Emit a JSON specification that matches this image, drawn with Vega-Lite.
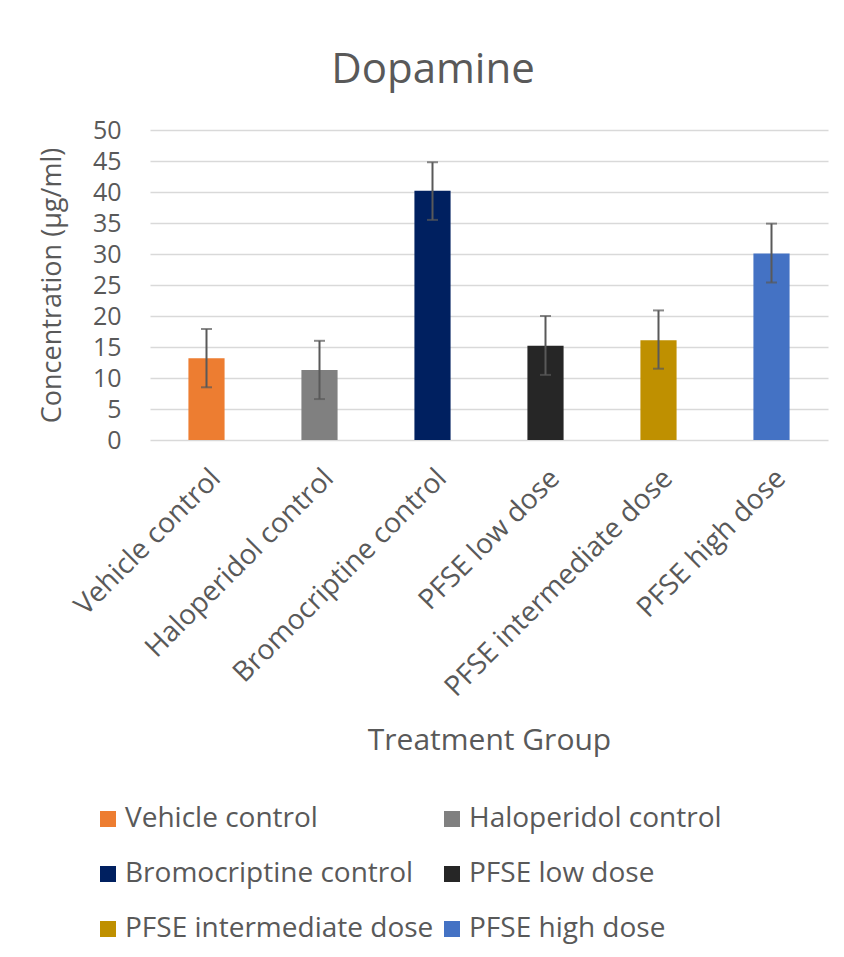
{
  "$schema": "https://vega.github.io/schema/vega-lite/v6.json",
  "width": 678,
  "height": 310,
  "autosize": {"type": "none"},
  "padding": {"left": 150, "top": 130, "right": 16, "bottom": 517},
  "background": "white",
  "config": {
    "font": "Open Sans",
    "view": {"stroke": null},
    "axis": {"labelColor": "#595959", "titleColor": "#595959", "titleFontWeight": "normal"},
    "axisY": {
      "titleFontSize": 27,
      "titlePadding": 26,
      "labelFontSize": 25,
      "labelPadding": 29,
      "labelOverlap": false,
      "ticks": false,
      "domain": false,
      "grid": true,
      "gridColor": "#d9d9d9",
      "gridWidth": 1.5
    },
    "legend": {"labelColor": "#595959"}
  },
  "title": {
    "text": "Dopamine",
    "fontSize": 42,
    "fontWeight": "normal",
    "color": "#595959",
    "anchor": "middle",
    "frame": "group",
    "dx": -56,
    "offset": 26
  },
  "data": {
    "values": [
      {"group": "Vehicle control", "value": 13.2, "low": 8.5, "high": 17.9},
      {"group": "Haloperidol control", "value": 11.3, "low": 6.6, "high": 16.0},
      {"group": "Bromocriptine control", "value": 40.2, "low": 35.5, "high": 44.8},
      {"group": "PFSE low dose", "value": 15.2, "low": 10.5, "high": 20.0},
      {"group": "PFSE intermediate dose", "value": 16.1, "low": 11.5, "high": 20.9},
      {"group": "PFSE high dose", "value": 30.1, "low": 25.4, "high": 34.9}
    ]
  },
  "encoding": {
    "x": {
      "field": "group",
      "type": "nominal",
      "sort": null,
      "scale": {"paddingInner": 0.68, "paddingOuter": 0.34},
      "axis": {
        "title": "Treatment Group",
        "titleFontSize": 30,
        "titleY": 285,
        "titleBaseline": "top",
        "labelAngle": -45,
        "labelFontSize": 28,
        "labelPadding": 24,
        "labelLimit": 500,
        "ticks": false,
        "domain": false
      }
    }
  },
  "layer": [
    {
      "mark": {"type": "bar"},
      "encoding": {
        "y": {
          "field": "value",
          "type": "quantitative",
          "title": "Concentration (µg/ml)",
          "scale": {"domain": [0, 50], "nice": false},
          "axis": {"values": [0, 5, 10, 15, 20, 25, 30, 35, 40, 45, 50], "labelOverlap": false}
        },
        "color": {
          "field": "group",
          "type": "nominal",
          "sort": null,
          "scale": {
            "domain": ["Vehicle control", "Haloperidol control", "Bromocriptine control", "PFSE low dose", "PFSE intermediate dose", "PFSE high dose"],
            "range": ["#ED7D31", "#808080", "#002060", "#262626", "#BF9000", "#4472C4"]
          },
          "legend": {
            "title": null,
            "orient": "none",
            "legendX": -56,
            "legendY": 675,
            "columns": 2,
            "direction": "horizontal",
            "symbolType": "square",
            "symbolSize": 256,
            "symbolStrokeWidth": 0,
            "labelFontSize": 28,
            "labelOffset": 3,
            "columnPadding": 4,
            "rowPadding": 27,
            "padding": 0,
            "labelLimit": 400
          }
        }
      }
    },
    {
      "mark": {
        "type": "errorbar",
        "color": "#595959",
        "thickness": 2,
        "ticks": {"size": 11, "thickness": 2, "color": "#595959"}
      },
      "encoding": {
        "y": {
          "field": "low",
          "type": "quantitative",
          "title": "Concentration (µg/ml)",
          "axis": {"values": [0, 5, 10, 15, 20, 25, 30, 35, 40, 45, 50], "labelOverlap": false}
        },
        "y2": {"field": "high"}
      }
    }
  ]
}
